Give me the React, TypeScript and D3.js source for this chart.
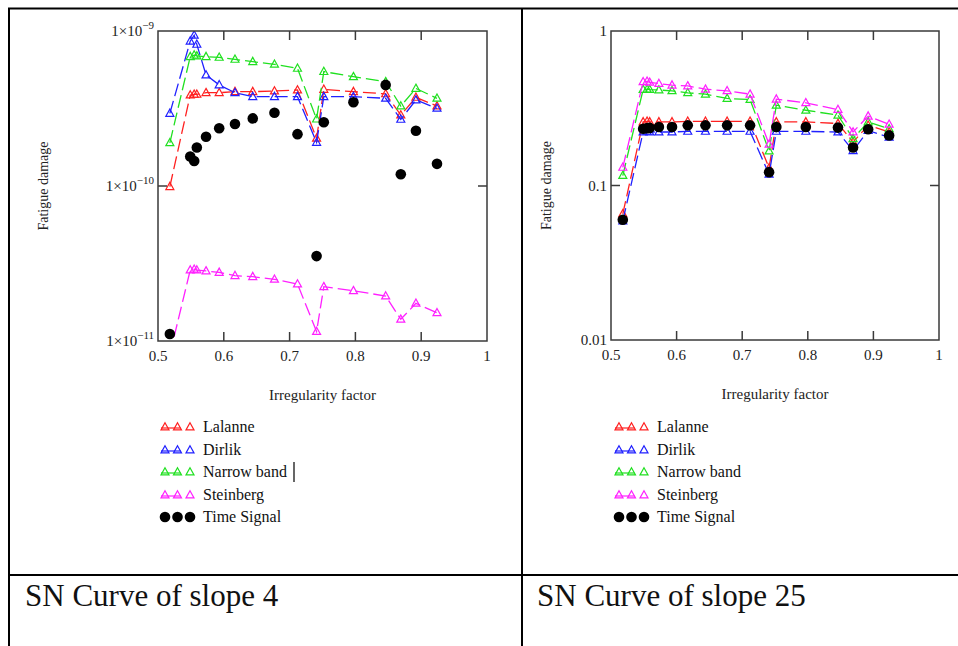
import React from "react";
import * as d3 from "d3";

const X = [0.518, 0.549, 0.555, 0.559, 0.573, 0.593, 0.617, 0.644, 0.677, 0.712, 0.741, 0.752, 0.797, 0.846, 0.869, 0.892, 0.924];

const lalanne4 = [9.9e-11, 3.86e-10, 3.9e-10, 3.9e-10, 4.0e-10, 4.0e-10, 4.06e-10, 4.06e-10, 4.1e-10, 4.16e-10, 2.03e-10, 4.2e-10, 4.06e-10, 3.93e-10, 2.87e-10, 3.73e-10, 3.28e-10];
const dirlik4 = [2.94e-10, 8.6e-10, 9.4e-10, 8.2e-10, 5.2e-10, 4.49e-10, 4.0e-10, 3.77e-10, 3.77e-10, 3.77e-10, 1.91e-10, 3.77e-10, 3.77e-10, 3.68e-10, 2.69e-10, 3.59e-10, 3.17e-10];
const narrow4 = [1.9e-10, 6.83e-10, 6.99e-10, 6.9e-10, 6.83e-10, 6.76e-10, 6.56e-10, 6.34e-10, 6.1e-10, 5.74e-10, 2.7e-10, 5.47e-10, 5.07e-10, 4.71e-10, 3.28e-10, 4.26e-10, 3.68e-10];
const steinberg4 = [8.2e-12, 2.87e-11, 2.9e-11, 2.87e-11, 2.83e-11, 2.77e-11, 2.64e-11, 2.6e-11, 2.5e-11, 2.33e-11, 1.15e-11, 2.24e-11, 2.11e-11, 1.95e-11, 1.38e-11, 1.75e-11, 1.52e-11];
const time4 = [1.11e-11, 1.55e-10, 1.45e-10, 1.77e-10, 2.08e-10, 2.36e-10, 2.51e-10, 2.73e-10, 2.97e-10, 2.16e-10, 3.53e-11, 2.58e-10, 3.47e-10, 4.49e-10, 1.19e-10, 2.27e-10, 1.39e-10];

const lalanne25 = [0.0655, 0.258, 0.26, 0.258, 0.258, 0.258, 0.26, 0.26, 0.26, 0.26, 0.13, 0.258, 0.258, 0.252, 0.191, 0.245, 0.222];
const dirlik25 = [0.059, 0.222, 0.224, 0.222, 0.222, 0.222, 0.224, 0.224, 0.224, 0.224, 0.118, 0.224, 0.224, 0.222, 0.168, 0.227, 0.205];
const narrow25 = [0.116, 0.418, 0.42, 0.418, 0.415, 0.41, 0.398, 0.39, 0.366, 0.36, 0.167, 0.331, 0.307, 0.285, 0.201, 0.258, 0.233];
const steinberg25 = [0.131, 0.469, 0.472, 0.465, 0.457, 0.446, 0.441, 0.42, 0.41, 0.39, 0.185, 0.362, 0.343, 0.31, 0.222, 0.281, 0.249];
const time25 = [0.06, 0.233, 0.235, 0.236, 0.239, 0.239, 0.245, 0.245, 0.245, 0.245, 0.122, 0.239, 0.239, 0.237, 0.176, 0.231, 0.211];

const xTicks = [0.5, 0.6, 0.7, 0.8, 0.9, 1];
const xTickLabels = ["0.5", "0.6", "0.7", "0.8", "0.9", "1"];
const legendNames = ["Lalanne", "Dirlik", "Narrow band", "Steinberg", "Time Signal"];
const colors = ["#ff2020", "#2020ff", "#20e020", "#ff20ff", "#000000"];
const captions = ["SN Curve of slope 4", "SN Curve of slope 25"];

const FONT = "Liberation Serif, Times New Roman, Times, serif";
const F = { fontFamily: FONT };

type YLab = { v: number; base: string; exp?: string };

function tri(cx: number, cy: number, s: number) {
  const h = s * 0.9;
  return `M${cx},${cy - h * 0.6}L${cx + s / 2},${cy + h * 0.4}L${cx - s / 2},${cy + h * 0.4}Z`;
}

function Chart(props: {
  id: string;
  x0: number; x1: number; y0: number; y1: number;
  yDomain: [number, number];
  yLabels: YLab[];
  series: number[][];
  legendX: number;
  titleX: number;
  cursor?: boolean;
}) {
  const { id, x0, x1, y0, y1, yDomain, yLabels, series, legendX, titleX } = props;
  const xs = d3.scaleLinear().domain([0.5, 1]).range([x0, x1]);
  const ys = d3.scaleLog().domain(yDomain).range([y1, y0]);
  const line = d3.line<number>().x((_, i) => xs(X[i])).y((d) => ys(d));
  const frame = "#3a3a3a";
  const midY = ys(Math.sqrt(yDomain[0] * yDomain[1]));
  const legY = [427, 450, 472, 495, 517];
  return (
    <g>
      <defs>
        <clipPath id={id}>
          <rect x={x0} y={y0} width={x1 - x0} height={y1 - y0} />
        </clipPath>
      </defs>
      <g clipPath={`url(#${id})`}>
        {series.slice(0, 4).map((s, k) => (
          <g key={k}>
            <path d={line(s) || ""} fill="none" stroke={colors[k]} strokeWidth={1.3} strokeDasharray="13,5" />
            {s.map((v, i) => (
              <path key={i} d={tri(xs(X[i]), ys(v), 8)} fill="none" stroke={colors[k]} strokeWidth={1.2} />
            ))}
          </g>
        ))}
        {series[4].map((v, i) => (
          <circle key={i} cx={xs(X[i])} cy={ys(v)} r={5.3} fill="#000" />
        ))}
      </g>
      <rect x={x0} y={y0} width={x1 - x0} height={y1 - y0} fill="none" stroke={frame} strokeWidth={1.5} />
      {xTicks.slice(1, -1).map((t, i) => (
        <g key={i}>
          <line x1={xs(t)} x2={xs(t)} y1={y0} y2={y0 + 9} stroke={frame} strokeWidth={1.5} />
          <line x1={xs(t)} x2={xs(t)} y1={y1} y2={y1 - 9} stroke={frame} strokeWidth={1.5} />
        </g>
      ))}
      <line x1={x0} x2={x0 + 9} y1={midY} y2={midY} stroke={frame} strokeWidth={1.5} />
      <line x1={x1} x2={x1 - 9} y1={midY} y2={midY} stroke={frame} strokeWidth={1.5} />
      {xTicks.map((t, i) => (
        <text key={i} x={xs(t)} y={y1 + 20} fontSize={15} style={F} textAnchor="middle" fill="#222">
          {xTickLabels[i]}
        </text>
      ))}
      {yLabels.map((l, i) => (
        <text key={i} x={x0 - 4} y={ys(l.v) + 5} fontSize={15} style={F} textAnchor="end" fill="#222">
          {l.base}
          {l.exp ? <tspan dy={-7} fontSize={11}>{l.exp}</tspan> : null}
        </text>
      ))}
      <text transform={`translate(${titleX},${(y0 + y1) / 2}) rotate(-90)`} fontSize={14} style={F} textAnchor="middle" fill="#222">
        Fatigue damage
      </text>
      <text x={(x0 + x1) / 2} y={y1 + 59} fontSize={15} style={F} textAnchor="middle" fill="#222">
        Irregularity factor
      </text>
      {legendNames.map((n, k) => {
        const cy = legY[k];
        const pts = [legendX + 5, legendX + 17.5, legendX + 30];
        return (
          <g key={k}>
            {k < 4 ? (
              <g>
                <line x1={pts[0] - 4} x2={pts[1] + 3} y1={cy + 1} y2={cy + 1} stroke={colors[k]} strokeWidth={1.2} />
                {pts.map((px, j) => (
                  <path key={j} d={tri(px, cy, 8)} fill="none" stroke={colors[k]} strokeWidth={1.2} />
                ))}
              </g>
            ) : (
              pts.map((px, j) => <circle key={j} cx={px} cy={cy} r={5.3} fill="#000" />)
            )}
            <text x={legendX + 43} y={cy + 5} fontSize={16} style={F} fill="#111">
              {n}
            </text>
          </g>
        );
      })}
      {props.cursor ? <line x1={legendX + 134} x2={legendX + 134} y1={462} y2={482} stroke="#000" strokeWidth={1.2} /> : null}
    </g>
  );
}

export default function App() {
  return (
    <svg width={958} height={646} style={{ position: "absolute", left: 0, top: 0, background: "#fff" }}>
      <rect x={0} y={0} width={958} height={646} fill="#fff" />
      <line x1={8} x2={958} y1={8.5} y2={8.5} stroke="#000" strokeWidth={2} />
      <line x1={9} x2={9} y1={8} y2={646} stroke="#000" strokeWidth={2} />
      <line x1={522} x2={522} y1={8} y2={646} stroke="#000" strokeWidth={2} />
      <line x1={8} x2={958} y1={575} y2={575} stroke="#000" strokeWidth={2} />
      <Chart
        id="c1"
        x0={158} x1={487} y0={31} y1={341}
        yDomain={[1e-11, 1e-9]}
        yLabels={[
          { v: 1e-9, base: "1×10", exp: "−9" },
          { v: 1e-10, base: "1×10", exp: "−10" },
          { v: 1e-11, base: "1×10", exp: "−11" },
        ]}
        series={[lalanne4, dirlik4, narrow4, steinberg4, time4]}
        legendX={160}
        titleX={48}
        cursor
      />
      <Chart
        id="c2"
        x0={611} x1={939} y0={31} y1={340}
        yDomain={[0.01, 1]}
        yLabels={[
          { v: 1, base: "1" },
          { v: 0.1, base: "0.1" },
          { v: 0.01, base: "0.01" },
        ]}
        series={[lalanne25, dirlik25, narrow25, steinberg25, time25]}
        legendX={614}
        titleX={551}
      />
      <text x={25} y={606} fontSize={31} style={F} fill="#111">{captions[0]}</text>
      <text x={537} y={606} fontSize={31} style={F} fill="#111">{captions[1]}</text>
    </svg>
  );
}
